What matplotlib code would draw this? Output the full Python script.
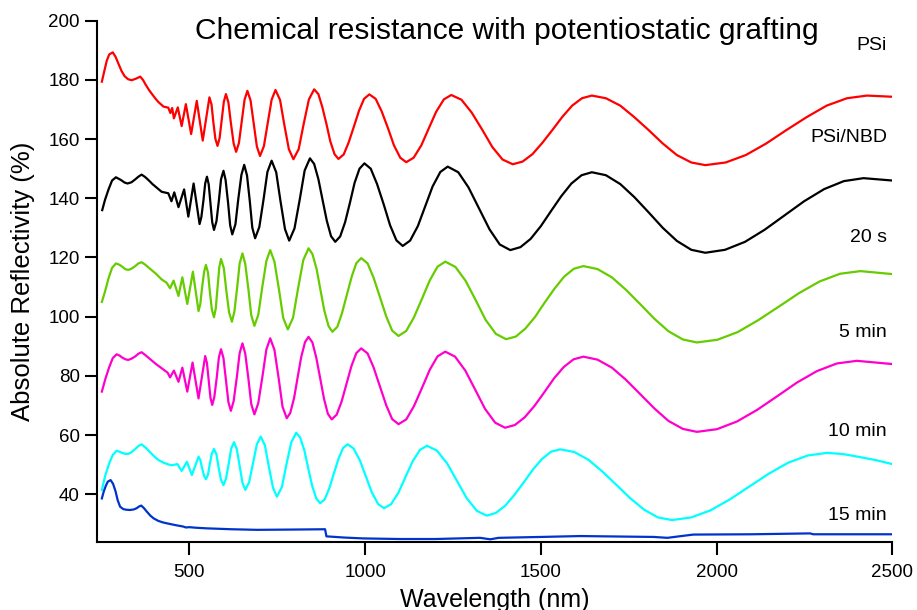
import matplotlib
matplotlib.use("Agg")
import matplotlib.pyplot as plt

plt.rcParams['font.family'] = ['Liberation Sans', 'DejaVu Sans']

# (wavelength nm, reflectivity %), curves are offset as in the original
psi = [(251, 179.4), (258, 183.0), (265, 186.5), (272, 188.6), (282, 189.3), (290, 187.8),
       (298, 185.5), (307, 183.0), (316, 181.2), (326, 180.2), (336, 179.9), (348, 180.4),
       (360, 181.1), (368, 180.0), (375, 178.5), (385, 176.6), (395, 175.0), (404, 173.6),
       (412, 172.5), (426, 171.0), (440, 170.6), (446, 168.8), (451, 170.5), (456, 167.0),
       (467, 170.7), (478, 164.4), (490, 171.8), (505, 161.7), (521, 172.9), (538, 159.5),
       (557, 174.1), (563, 171.7), (568, 165.9), (574, 160.1), (580, 157.7),
       (586, 160.3), (592, 166.5), (598, 172.6), (604, 175.2),
       (611, 172.4), (618, 165.5), (626, 158.5), (633, 155.7),
       (641, 158.7), (649, 166.0), (657, 173.3), (665, 176.3),
       (674, 173.1), (683, 165.3), (692, 157.5), (701, 154.3),
       (712, 157.6), (723, 165.5), (734, 173.3), (745, 176.6),
       (758, 173.2), (770, 164.9), (783, 156.6), (796, 153.2),
       (811, 156.6), (825, 165.0), (840, 173.4), (855, 176.8),
       (867, 175.2), (878, 170.9), (890, 165.1), (901, 159.2), (913, 154.9), (924, 153.3),
       (939, 154.8), (953, 158.8), (968, 164.2), (983, 169.7), (997, 173.6), (1012, 175.1),
       (1030, 173.6), (1047, 169.4), (1065, 163.7), (1082, 157.9), (1100, 153.7), (1117, 152.2),
       (1138, 153.7), (1160, 157.9), (1181, 163.6), (1202, 169.2), (1224, 173.4), (1245, 174.9),
       (1274, 173.3), (1303, 169.0), (1333, 163.2), (1362, 157.3), (1391, 153.1), (1420, 151.5),
       (1448, 152.4), (1476, 154.9), (1504, 158.7), (1533, 163.1), (1561, 167.5), (1589, 171.3),
       (1617, 173.8), (1645, 174.7),
       (1685, 173.8), (1726, 171.3), (1766, 167.4), (1807, 163.0), (1847, 158.5), (1887, 154.6),
       (1928, 152.1), (1968, 151.2),
       (2026, 152.1), (2083, 154.6), (2141, 158.5), (2198, 163.0), (2256, 167.4), (2313, 171.3),
       (2371, 173.8), (2428, 174.7), (2500, 174.3)]

psi_nbd = [(252, 136.0), (260, 139.5), (270, 143.0), (280, 146.0), (291, 147.1), (305, 146.2),
           (316, 145.3), (324, 145.0), (335, 145.4), (345, 146.3), (355, 147.3), (364, 148.0),
           (374, 147.2), (385, 146.0), (395, 144.8), (405, 143.8), (421, 142.2), (440, 141.7),
           (449, 139.0), (457, 142.0), (469, 137.0), (485, 143.0), (497, 133.8), (512, 145.0),
           (529, 131.3), (534, 133.6), (540, 139.3), (545, 145.0), (550, 147.3),
           (555, 144.7), (560, 138.3), (565, 131.9), (570, 129.3),
           (577, 132.2), (584, 139.3), (590, 146.4), (597, 149.3),
           (603, 146.2), (610, 138.6), (616, 130.9), (622, 127.8),
           (631, 131.2), (639, 139.6), (648, 147.9), (656, 151.3),
           (664, 147.7), (672, 138.9), (679, 130.1), (687, 126.5),
           (699, 130.3), (711, 139.6), (722, 148.9), (734, 152.7),
           (747, 148.8), (759, 139.2), (772, 129.6), (784, 125.7),
           (799, 129.8), (814, 139.6), (828, 149.4), (843, 153.5),
           (855, 151.6), (867, 146.5), (879, 139.4), (891, 132.4), (903, 127.2), (915, 125.3),
           (929, 127.1), (943, 131.9), (957, 138.6), (970, 145.2), (984, 150.0), (998, 151.8),
           (1016, 150.0), (1034, 144.8), (1053, 137.9), (1071, 130.9), (1089, 125.8), (1107, 123.9),
           (1128, 125.7), (1150, 130.6), (1171, 137.3), (1192, 144.0), (1214, 148.9), (1235, 150.7),
           (1265, 148.8), (1294, 143.7), (1324, 136.6), (1354, 129.5), (1383, 124.4), (1413, 122.5),
           (1442, 123.5), (1471, 126.3), (1500, 130.6), (1529, 135.7), (1558, 140.7), (1587, 145.0),
           (1616, 147.8), (1645, 148.8),
           (1685, 147.8), (1726, 144.8), (1766, 140.4), (1807, 135.2), (1847, 130.0), (1887, 125.6),
           (1928, 122.6), (1968, 121.6),
           (2024, 122.6), (2081, 125.3), (2137, 129.4), (2193, 134.2), (2249, 139.0), (2306, 143.1),
           (2362, 145.8), (2418, 146.8), (2500, 146.0)]

graft_20s = [(251, 105.0), (260, 108.5), (270, 113.0), (280, 116.5), (291, 118.0), (300, 117.6),
             (308, 117.0), (317, 116.1), (326, 115.8), (335, 116.2), (345, 117.0), (355, 118.0),
             (364, 118.4), (374, 117.6), (385, 116.5), (395, 115.5), (405, 114.5), (421, 112.6),
             (435, 111.5), (445, 109.6), (455, 112.2), (469, 107.0), (480, 113.3), (494, 104.3),
             (510, 115.2), (526, 101.9), (531, 104.2), (536, 109.7), (542, 115.2), (547, 117.5),
             (553, 114.9), (558, 108.7), (564, 102.4), (570, 99.8),
             (575, 102.7), (580, 109.7), (585, 116.6), (590, 119.5),
             (598, 116.4), (605, 108.9), (613, 101.4), (621, 98.3),
             (628, 101.7), (636, 109.9), (643, 118.0), (651, 121.4),
             (659, 117.8), (668, 109.2), (676, 100.5), (685, 96.9),
             (696, 100.6), (707, 109.7), (719, 118.8), (730, 122.5),
             (742, 118.6), (755, 109.1), (767, 99.6), (780, 95.7),
             (795, 99.7), (809, 109.4), (824, 119.1), (839, 123.1),
             (850, 121.2), (862, 116.1), (873, 109.0), (884, 102.0), (896, 96.8), (907, 94.9),
             (921, 96.6), (934, 101.1), (948, 107.4), (962, 113.6), (975, 118.1), (989, 119.8),
             (1007, 118.0), (1024, 113.2), (1042, 106.7), (1060, 100.1), (1077, 95.3), (1095, 93.5),
             (1117, 95.2), (1139, 99.8), (1162, 106.1), (1184, 112.3), (1206, 116.9), (1228, 118.6),
             (1257, 116.8), (1286, 112.1), (1315, 105.5), (1343, 98.9), (1372, 94.2), (1401, 92.4),
             (1429, 93.3), (1456, 96.0), (1484, 100.0), (1511, 104.8), (1539, 109.5), (1566, 113.5),
             (1594, 116.2), (1621, 117.1),
             (1661, 116.1), (1702, 113.3), (1742, 109.1), (1783, 104.2), (1823, 99.3), (1863, 95.1),
             (1904, 92.3), (1944, 91.3),
             (2002, 92.2), (2060, 94.8), (2118, 98.8), (2177, 103.4), (2235, 108.0), (2293, 111.9),
             (2351, 114.5), (2409, 115.4), (2500, 114.4)]

graft_5min = [(251, 74.7), (261, 79.0), (272, 83.0), (282, 86.0), (293, 87.3), (301, 86.9),
              (309, 86.2), (318, 85.6), (326, 85.4), (335, 85.8), (345, 86.5), (355, 87.5),
              (364, 88.0), (374, 87.1), (385, 86.0), (395, 85.0), (405, 84.0), (421, 82.6),
              (438, 81.1), (445, 79.5), (456, 81.8), (469, 78.0), (480, 82.8), (494, 74.7),
              (509, 84.5), (526, 72.4), (545, 86.7),
              (550, 84.3), (555, 78.5), (560, 72.6), (565, 70.2),
              (571, 72.9), (578, 79.6), (584, 86.3), (590, 89.0),
              (597, 86.0), (604, 78.6), (611, 71.2), (618, 68.2),
              (626, 71.5), (635, 79.6), (643, 87.7), (651, 91.0),
              (659, 87.5), (668, 79.0), (676, 70.5), (685, 67.0),
              (696, 70.8), (708, 79.9), (719, 88.9), (730, 92.7),
              (742, 88.8), (754, 79.2), (765, 69.6), (777, 65.7),
              (787, 67.5), (798, 72.6), (808, 79.5), (818, 86.3), (829, 91.4), (839, 93.2),
              (850, 91.3), (861, 86.2), (872, 79.3), (883, 72.3), (894, 67.2), (905, 65.3),
              (919, 66.9), (933, 71.3), (947, 77.3), (961, 83.3), (975, 87.7), (989, 89.3),
              (1007, 87.6), (1024, 82.9), (1042, 76.5), (1060, 70.1), (1077, 65.4), (1095, 63.7),
              (1117, 65.3), (1139, 69.8), (1162, 76.0), (1184, 82.1), (1206, 86.6), (1228, 88.2),
              (1256, 86.5), (1285, 81.8), (1313, 75.4), (1341, 68.9), (1370, 64.2), (1398, 62.5),
              (1426, 63.4), (1454, 66.0), (1482, 69.9), (1510, 74.5), (1537, 79.1), (1565, 83.0),
              (1593, 85.6), (1621, 86.5),
              (1661, 85.5), (1702, 82.8), (1742, 78.7), (1783, 73.8), (1823, 69.0), (1863, 64.8),
              (1904, 62.1), (1944, 61.1),
              (2001, 62.0), (2058, 64.6), (2115, 68.5), (2172, 73.1), (2228, 77.7), (2285, 81.6),
              (2342, 84.2), (2399, 85.1), (2500, 84.0)]

graft_10min = [(251, 41.5), (261, 46.5), (272, 50.5), (282, 53.3), (293, 54.7), (301, 54.4),
               (309, 54.0), (317, 53.7), (325, 53.6), (335, 54.2), (345, 55.2), (355, 56.3),
               (364, 56.9), (377, 55.6), (390, 54.0), (401, 52.7), (412, 51.6), (426, 50.7),
               (440, 50.1), (450, 49.8), (466, 50.2), (478, 47.9), (493, 51.0), (507, 46.5),
               (526, 52.7), (531, 51.6), (536, 48.9), (542, 46.2), (547, 45.1),
               (553, 46.6), (558, 50.2), (564, 53.8), (570, 55.3),
               (577, 53.5), (583, 49.2), (590, 44.9), (597, 43.1),
               (604, 45.2), (612, 50.4), (619, 55.5), (627, 57.6),
               (635, 55.2), (643, 49.6), (651, 43.9), (659, 41.5),
               (670, 44.1), (681, 50.5), (692, 56.9), (703, 59.5),
               (715, 56.5), (726, 49.4), (738, 42.2), (749, 39.2),
               (763, 42.4), (776, 50.0), (790, 57.6), (804, 60.8),
               (815, 59.2), (827, 54.9), (838, 48.9), (849, 43.0), (861, 38.6), (872, 37.0),
               (885, 38.3), (898, 42.0), (911, 47.0), (924, 51.9), (937, 55.6), (950, 56.9),
               (967, 55.5), (985, 51.5), (1002, 46.1), (1019, 40.7), (1037, 36.7), (1054, 35.3),
               (1074, 36.7), (1095, 40.6), (1115, 45.9), (1135, 51.1), (1156, 55.0), (1176, 56.4),
               (1204, 54.8), (1233, 50.5), (1261, 44.6), (1289, 38.7), (1318, 34.4), (1346, 32.8),
               (1372, 33.7), (1398, 36.1), (1424, 39.7), (1451, 44.0), (1477, 48.3), (1503, 51.9),
               (1529, 54.4), (1555, 55.2),
               (1595, 54.3), (1635, 51.7), (1674, 47.8), (1714, 43.3), (1754, 38.7), (1794, 34.8),
               (1833, 32.2), (1873, 31.3),
               (1928, 32.2), (1983, 34.6), (2038, 38.3), (2094, 42.7), (2149, 47.0), (2204, 50.7),
               (2259, 53.1), (2314, 54.0), (2360, 53.6), (2407, 52.6), (2455, 51.5), (2500, 50.2)]

graft_15min = [(251, 38.6), (256, 40.8), (262, 42.8), (268, 44.3), (276, 44.8), (283, 43.5),
               (290, 41.0), (296, 38.0), (303, 35.8), (312, 35.0), (320, 34.8), (331, 34.7),
               (342, 34.9), (350, 35.3), (357, 35.9), (363, 36.2), (371, 35.3), (380, 34.0),
               (389, 32.8), (398, 31.9), (412, 31.0), (425, 30.5), (436, 30.2), (460, 29.6),
               (483, 29.1), (490, 28.8), (500, 28.9), (520, 28.7), (550, 28.5), (620, 28.2),
               (692, 28.0), (800, 28.1), (886, 28.2), (890, 25.8), (940, 25.4), (995, 25.1),
               (1100, 24.9), (1200, 24.9), (1327, 25.3), (1356, 24.8), (1380, 25.3), (1500, 25.6),
               (1612, 25.9), (1821, 25.6), (1860, 25.3), (1900, 25.9), (1934, 26.4), (2100, 26.5),
               (2266, 26.8), (2275, 26.5), (2500, 26.5)]

labels = ["PSi", "PSi/NBD", "20 s", "5 min", "10 min", "15 min"]
label_y = [191.6, 160.7, 126.9, 94.8, 61.3, 33.0]
colors = ["#ff0000", "#000000", "#66cc00", "#ff00cc", "#00ffff", "#0033cc"]

series = [psi, psi_nbd, graft_20s, graft_5min, graft_10min, graft_15min]

fig = plt.figure(figsize=(9.17, 6.10), dpi=100)
ax = fig.add_axes([0.1061, 0.1120, 0.8670, 0.8541])

for pts, c in zip(series, colors):
    wl, r = zip(*pts)
    ax.plot(wl, r, color=c, lw=1.6, solid_joinstyle='round')

for lab, y in zip(labels, label_y):
    ax.text(2485, y, lab, ha='right', va='center', fontsize=14)

ax.set_xlim(238, 2500)
ax.set_ylim(24, 200)
ax.set_xticks([500, 1000, 1500, 2000, 2500])
ax.set_yticks(range(40, 201, 20))

for s in ['top', 'right']:
    ax.spines[s].set_visible(False)
for s in ['left', 'bottom']:
    ax.spines[s].set_linewidth(1.5)
ax.tick_params(direction='out', length=9, width=1.5, labelsize=13.5)
ax.tick_params(axis='x', pad=7)
ax.tick_params(axis='y', pad=3.5)

ax.set_xlabel("Wavelength (nm)", fontsize=18, labelpad=5)
ax.set_ylabel("Absolute Reflectivity (%)", fontsize=18.5, labelpad=10)

fig.text(507 / 917, 1 - 31 / 610, "Chemical resistance with potentiostatic grafting",
         ha='center', va='center', fontsize=21.5)

fig.savefig("out.png", dpi=100)
